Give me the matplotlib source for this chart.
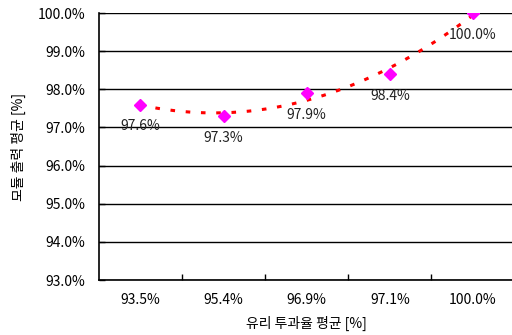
import matplotlib.pyplot as plt
import numpy as np

plt.rcParams['font.family'] = ['Noto Sans CJK KR', 'DejaVu Sans']

# 유리 투과율 평균 vs 모듈 출력 평균
categories = ['93.5%', '95.4%', '96.9%', '97.1%', '100.0%']
output_avg = [97.6, 97.3, 97.9, 98.4, 100.0]
y_ticks = [93, 94, 95, 96, 97, 98, 99, 100]

fig = plt.figure(figsize=(5.12, 3.35), dpi=100)
ax = fig.add_axes([0.193, 0.164, 0.812, 0.797])

x = np.arange(1, len(categories) + 1)

# 2차 다항식 추세선
coef = np.polyfit(x, output_avg, 2)
xs = np.linspace(x[0], x[-1], 200)
ax.plot(xs, np.polyval(coef, xs), color='red', linestyle=(0, (1.5, 3.5)),
        linewidth=2.2, zorder=3)

ax.plot(x, output_avg, linestyle='none', marker='D', markersize=6.5,
        color='#ff00ff', zorder=4)

for xi, v in zip(x, output_avg):
    ax.annotate('%.1f%%' % v, (xi, v), xytext=(0, -15.5), textcoords='offset points',
                ha='center', va='center', fontsize=10, color='#222222')

ax.set_xlim(0.5, len(categories) + 0.5)
ax.set_ylim(93, 100)
ax.set_yticks(y_ticks)
ax.set_yticklabels(['%.1f%%' % t for t in y_ticks], fontsize=10)
ax.set_xticks(x)
ax.set_xticklabels(categories, fontsize=10)
ax.set_xticks(np.arange(1.5, len(categories)), minor=True)

ax.tick_params(axis='x', which='major', length=0, pad=9)
ax.tick_params(axis='x', which='minor', direction='in', length=4, width=1)
ax.tick_params(axis='y', direction='in', length=4, width=1, pad=10)

ax.grid(axis='y', color='black', linewidth=1)
ax.set_axisbelow(True)
for side in ['top', 'right']:
    ax.spines[side].set_visible(False)
ax.spines['left'].set_linewidth(1.2)
ax.spines['bottom'].set_linewidth(1.2)

ax.set_xlabel('유리 투과율 평균 [%]', fontsize=10, labelpad=7)
ax.set_ylabel('모듈 출력 평균 [%]', fontsize=10, labelpad=8)

fig.savefig('out.png', dpi=100)
